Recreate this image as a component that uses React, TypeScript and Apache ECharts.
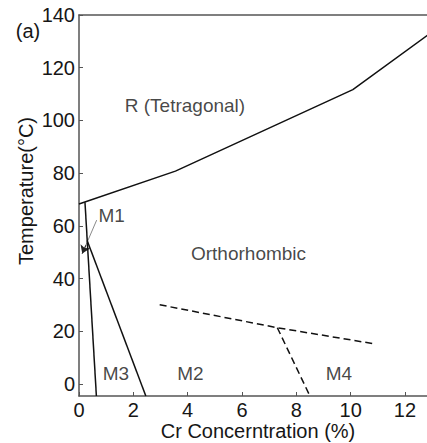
import React, { useEffect, useRef } from "react";
import * as echarts from "echarts";

// Phase boundaries of the temperature / Cr concentration diagram
const rBoundary: [number, number][] = [
  [0, 68.3],
  [3.55, 80.8],
  [10.08, 111.7],
  [12.85, 132.5],
];
const m1Boundary: [number, number][] = [
  [0.22, 69.0],
  [0.64, -4.5],
];
const m3Boundary: [number, number][] = [
  [0.3, 54.5],
  [2.46, -4.5],
];
const dashedUpper: [number, number][] = [
  [2.97, 30.1],
  [7.3, 21.4],
  [10.87, 15.3],
];
const dashedLower: [number, number][] = [
  [7.3, 21.4],
  [8.5, -4.5],
];
const m1Arrow: [number, number][] = [
  [0.65, 62.2],
  [0.12, 49.5],
];

// Phase region labels
const regionLabels: { name: string; pos: [number, number] }[] = [
  { name: "R (Tetragonal)", pos: [3.9, 105.5] },
  { name: "Orthorhombic", pos: [6.24, 49.7] },
  { name: "M1", pos: [1.2, 64.1] },
  { name: "M3", pos: [1.36, 4.2] },
  { name: "M2", pos: [4.1, 4.2] },
  { name: "M4", pos: [9.57, 4.2] },
];

const xTicks = [0, 2, 4, 6, 8, 10, 12];
const yTicks = [0, 20, 40, 60, 80, 100, 120, 140];
const xRange: [number, number] = [0, 12.81];
const yRange: [number, number] = [-4.5, 140];

const FONT = "'Liberation Sans', Arial, sans-serif";
const AXIS_COLOR = "#555";
const LINE_COLOR = "#111";
const TEXT_COLOR = "#161616";

export default function App() {
  const ref = useRef<HTMLDivElement>(null);

  useEffect(() => {
    if (!ref.current) return;
    const chart = echarts.init(ref.current, undefined, { renderer: "svg" });

    const solid = (data: [number, number][]) => ({
      type: "line",
      data,
      showSymbol: false,
      symbol: "none",
      silent: true,
      lineStyle: { color: LINE_COLOR, width: 1.5 },
    });
    const dashed = (data: [number, number][]) => ({
      type: "line",
      data,
      showSymbol: false,
      symbol: "none",
      silent: true,
      lineStyle: { color: LINE_COLOR, width: 1.5, type: [7, 4] },
    });

    // short stub at the arrow's tip, so the head is drawn dark
    const [a0, a1] = m1Arrow;
    const headStart: [number, number] = [
      a1[0] + (a0[0] - a1[0]) * 0.25,
      a1[1] + (a0[1] - a1[1]) * 0.25,
    ];

    chart.setOption({
      animation: false,
      backgroundColor: "#fff",
      textStyle: { fontFamily: FONT },
      grid: { left: 79, top: 15, right: 0, bottom: 47, containLabel: false },
      xAxis: [
        {
          type: "value",
          min: xRange[0],
          max: xRange[1],
          axisLine: {
            show: true,
            onZero: false,
            lineStyle: { color: AXIS_COLOR, width: 1.5 },
          },
          axisTick: {
            show: true,
            inside: true,
            length: 4,
            customValues: xTicks,
            lineStyle: { color: AXIS_COLOR },
          },
          axisLabel: {
            customValues: xTicks,
            margin: 4,
            fontSize: 20,
            color: TEXT_COLOR,
            fontFamily: FONT,
          },
          splitLine: { show: false },
        },
        {
          type: "value",
          position: "top",
          min: xRange[0],
          max: xRange[1],
          axisLine: {
            show: true,
            onZero: false,
            lineStyle: { color: AXIS_COLOR, width: 1.5 },
          },
          axisTick: { show: false },
          axisLabel: { show: false },
          splitLine: { show: false },
        },
      ],
      yAxis: {
        type: "value",
        min: yRange[0],
        max: yRange[1],
        axisLine: {
          show: true,
          onZero: false,
          lineStyle: { color: AXIS_COLOR, width: 1.5 },
        },
        axisTick: {
          show: true,
          inside: true,
          length: 4,
          customValues: yTicks,
          lineStyle: { color: AXIS_COLOR },
        },
        axisLabel: {
          customValues: yTicks,
          margin: 4,
          fontSize: 20,
          color: TEXT_COLOR,
          fontFamily: FONT,
        },
        splitLine: { show: false },
      },
      series: [
        solid(rBoundary),
        solid(m1Boundary),
        solid(m3Boundary),
        dashed(dashedUpper),
        dashed(dashedLower),
        {
          type: "lines",
          coordinateSystem: "cartesian2d",
          silent: true,
          symbol: ["none", "none"],
          lineStyle: { color: "#8a8a8a", width: 1, opacity: 1 },
          data: [{ coords: m1Arrow }],
        },
        {
          type: "lines",
          coordinateSystem: "cartesian2d",
          silent: true,
          symbol: ["none", "arrow"],
          symbolSize: 8,
          lineStyle: { color: "#222", width: 1, opacity: 1 },
          data: [{ coords: [headStart, a1] }],
        },
        {
          type: "scatter",
          silent: true,
          symbolSize: 0,
          data: regionLabels.map((r) => ({ value: r.pos, name: r.name })),
          label: {
            show: true,
            position: "inside",
            formatter: (p: any) => p.name,
            fontSize: 19,
            color: TEXT_COLOR,
            fontFamily: FONT,
            align: "center",
            verticalAlign: "middle",
          },
        },
      ],
      graphic: [
        {
          type: "text",
          x: 28,
          y: 31,
          style: {
            text: "(a)",
            fontSize: 20,
            fontFamily: FONT,
            fill: TEXT_COLOR,
            align: "center",
            verticalAlign: "middle",
          },
        },
        {
          type: "text",
          x: 258,
          y: 431,
          style: {
            text: "Cr Concerntration (%)",
            fontSize: 20,
            fontFamily: FONT,
            fill: TEXT_COLOR,
            align: "center",
            verticalAlign: "middle",
          },
        },
        {
          type: "text",
          x: 26,
          y: 191,
          rotation: Math.PI / 2,
          style: {
            text: "Temperature(°C)",
            fontSize: 20,
            fontFamily: FONT,
            fill: TEXT_COLOR,
            align: "center",
            verticalAlign: "middle",
          },
        },
      ],
    });

    return () => chart.dispose();
  }, []);

  return (
    <div
      ref={ref}
      style={{ width: 427, height: 443, position: "fixed", left: 0, top: 0 }}
    />
  );
}
